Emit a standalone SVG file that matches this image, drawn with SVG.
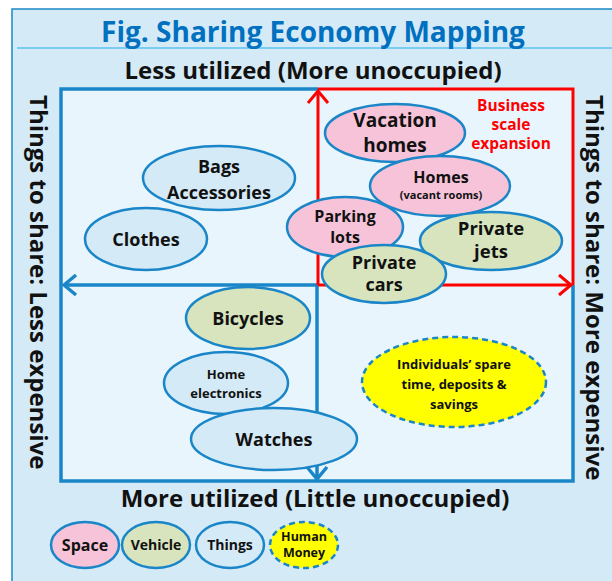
<svg xmlns="http://www.w3.org/2000/svg" width="612" height="581" viewBox="0 0 612 581">
  <style>
    text { font-family: "Open Sans", "Liberation Sans", sans-serif; font-weight: bold; fill: #111; text-anchor: middle; }
    .title { fill: #0070c0; font-size: 28px; }
    .axis { font-size: 24px; }
    .side { font-size: 24px; text-anchor: start; }
    .red { fill: #ff0000; font-size: 15.5px; }
    .node { stroke: #1a86c8; stroke-width: 2.5; }
    .space { fill: #f6c3d8; }
    .vehicle { fill: #d7e4bd; }
    .things { fill: #d5eaf7; }
    .human { fill: #ffff00; stroke-dasharray: 6 4; }
    .blue { stroke: #1a86c8; stroke-width: 3.5; fill: none; }
    .redl { stroke: #ff0000; stroke-width: 3; fill: none; }
  </style>
  <defs>
    <marker id="arrowBlue" markerUnits="userSpaceOnUse" viewBox="-14 -12 16 24" refX="0" refY="0" markerWidth="16" markerHeight="24" orient="auto">
      <path d="M-12,-10 L0,0 L-12,10" fill="none" stroke="#1a86c8" stroke-width="3.5"/>
    </marker>
    <marker id="arrowRed" markerUnits="userSpaceOnUse" viewBox="-14 -12 16 24" refX="0" refY="0" markerWidth="16" markerHeight="24" orient="auto">
      <path d="M-12,-10 L0,0 L-12,10" fill="none" stroke="#ff0000" stroke-width="3"/>
    </marker>
  </defs>

  <!-- page background -->
  <rect x="0" y="0" width="612" height="581" fill="#ffffff"/>
  <rect x="12" y="9" width="620" height="590" fill="#d5eaf7" stroke="#1a86c8" stroke-width="1.5"/>
  <line x1="17" y1="48" x2="612" y2="48" stroke="#5bc3ee" stroke-width="1.5"/>

  <!-- headings -->
  <text class="title" x="313" y="42">Fig. Sharing Economy Mapping</text>
  <text class="axis" x="313" y="79">Less utilized (More unoccupied)</text>
  <text class="axis" x="315" y="507">More utilized (Little unoccupied)</text>
  <text class="side" transform="translate(30,95) rotate(90)">Things to share: Less expensive</text>
  <text class="side" transform="translate(586,95) rotate(90)">Things to share: More expensive</text>

  <!-- quadrant area -->
  <rect x="61" y="89" width="512" height="392" fill="#e8f5fd"/>

  <g id="connectors">
    <polyline class="blue" points="318,89 61,89 61,481 573,481 573,285"/>
    <line class="blue" x1="318" y1="285" x2="64" y2="285" marker-end="url(#arrowBlue)"/>
    <line class="blue" x1="317" y1="285" x2="317" y2="479" marker-end="url(#arrowBlue)"/>
    <polyline class="redl" points="318,89 573,89 573,285"/>
    <line class="redl" x1="318" y1="285" x2="318" y2="91" marker-end="url(#arrowRed)"/>
    <line class="redl" x1="318" y1="285" x2="571" y2="285" marker-end="url(#arrowRed)"/>
  </g>

  <text class="red" x="511" y="111">Business</text>
  <text class="red" x="511" y="130">scale</text>
  <text class="red" x="511" y="149">expansion</text>

  <!-- things -->
  <g id="bags">
    <ellipse class="node things" cx="219" cy="178" rx="76" ry="32"/>
    <text x="219" y="173" font-size="18">Bags</text>
    <text x="219" y="199" font-size="18">Accessories</text>
  </g>
  <g id="clothes">
    <ellipse class="node things" cx="146" cy="239" rx="61" ry="31"/>
    <text x="146" y="246" font-size="18">Clothes</text>
  </g>

  <!-- space / vehicles -->
  <g id="vacation-homes">
    <ellipse class="node space" cx="395" cy="133" rx="70" ry="29"/>
    <text x="395" y="127" font-size="19">Vacation</text>
    <text x="395" y="152" font-size="19">homes</text>
  </g>
  <g id="homes">
    <ellipse class="node space" cx="440" cy="186" rx="70" ry="30"/>
    <text x="441" y="183" font-size="16">Homes</text>
    <text x="441" y="199" font-size="11">(vacant rooms)</text>
  </g>
  <g id="parking-lots">
    <ellipse class="node space" cx="345" cy="227" rx="58" ry="30"/>
    <text x="345" y="222" font-size="16">Parking</text>
    <text x="345" y="243" font-size="16">lots</text>
  </g>
  <g id="private-jets">
    <ellipse class="node vehicle" cx="491" cy="241" rx="71" ry="29"/>
    <text x="491" y="235" font-size="18.5">Private</text>
    <text x="491" y="258" font-size="18.5">jets</text>
  </g>
  <g id="private-cars">
    <ellipse class="node vehicle" cx="384" cy="274" rx="62" ry="29"/>
    <text x="384" y="269" font-size="18">Private</text>
    <text x="384" y="291" font-size="18">cars</text>
  </g>

  <g id="bicycles">
    <ellipse class="node vehicle" cx="248" cy="318" rx="62" ry="31"/>
    <text x="248" y="325" font-size="18">Bicycles</text>
  </g>
  <g id="home-electronics">
    <ellipse class="node things" cx="226" cy="383" rx="62" ry="31"/>
    <text x="226" y="379" font-size="13">Home</text>
    <text x="226" y="398" font-size="13">electronics</text>
  </g>
  <g id="watches">
    <ellipse class="node things" cx="274" cy="439" rx="83" ry="31"/>
    <text x="274" y="446" font-size="18">Watches</text>
  </g>

  <g id="spare-time">
    <ellipse class="node human" cx="454" cy="382" rx="92" ry="45"/>
    <text x="454" y="369" font-size="13">Individuals’ spare</text>
    <text x="454" y="389" font-size="13">time, deposits &amp;</text>
    <text x="454" y="409" font-size="13">savings</text>
  </g>

  <!-- legend -->
  <g id="legend-space">
    <ellipse class="node space" cx="85" cy="545" rx="34" ry="23"/>
    <text x="85" y="551" font-size="16">Space</text>
  </g>
  <g id="legend-vehicle">
    <ellipse class="node vehicle" cx="156" cy="545" rx="34" ry="23"/>
    <text x="156" y="550" font-size="14">Vehicle</text>
  </g>
  <g id="legend-things">
    <ellipse class="node things" cx="230" cy="545" rx="34" ry="23"/>
    <text x="230" y="550" font-size="14">Things</text>
  </g>
  <g id="legend-human">
    <ellipse class="node human" cx="304" cy="545" rx="34" ry="23"/>
    <text x="304" y="541" font-size="12.5">Human</text>
    <text x="304" y="557" font-size="12.5">Money</text>
  </g>
</svg>
